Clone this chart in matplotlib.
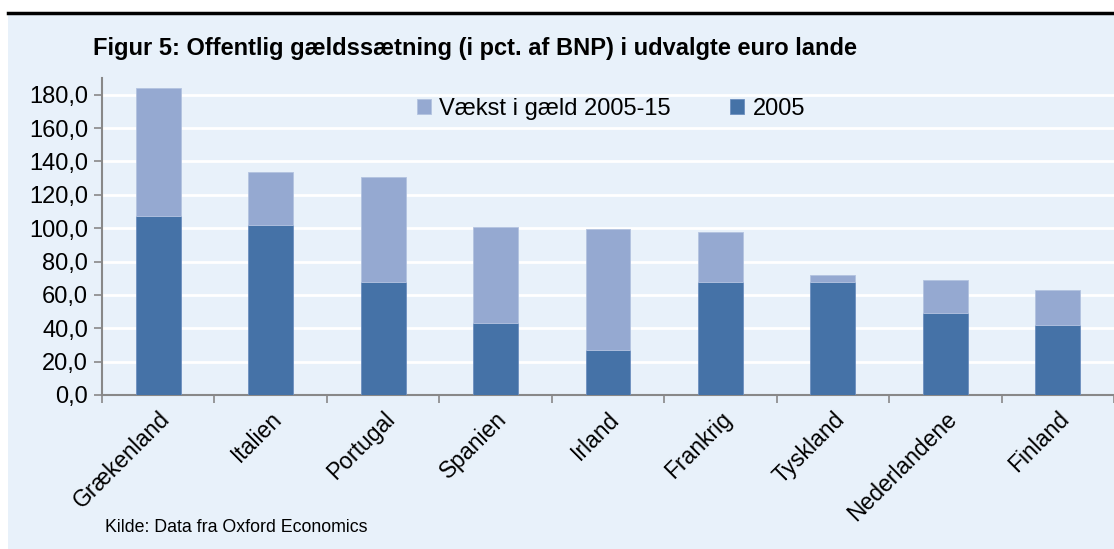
import matplotlib.pyplot as plt
import matplotlib.patches as mpatches
from matplotlib.lines import Line2D
import numpy as np

lande = ["Grækenland", "Italien", "Portugal", "Spanien", "Irland",
         "Frankrig", "Tyskland", "Nederlandene", "Finland"]
gaeld_2005 = np.array([107.5, 102.0, 67.8, 43.0, 27.0, 67.5, 67.5, 49.0, 41.8])
gaeld_2015 = np.array([184.0, 133.8, 130.5, 100.8, 99.6, 97.6, 72.0, 69.0, 63.0])
vaekst = gaeld_2015 - gaeld_2005

bg = "#E8F1FA"
col_2005 = "#4572A7"
col_vaekst = "#95A9D1"

plt.rcParams["font.family"] = ["Liberation Sans", "DejaVu Sans"]

fig = plt.figure(figsize=(11.14, 5.49), dpi=100)
fig.patch.set_facecolor("white")
fig.patches.append(mpatches.Rectangle((8 / 1114, 0), 1, 1 - 14 / 549,
                                      transform=fig.transFigure,
                                      facecolor=bg, edgecolor="none", zorder=-5))
fig.lines.append(Line2D([8 / 1114, 1], [1 - 13 / 549, 1 - 13 / 549],
                        transform=fig.transFigure, color="black", lw=2.5))

ax = fig.add_axes([102 / 1114, 1 - 395 / 549, 1 - 102 / 1114, (395 - 78) / 549])
ax.set_facecolor(bg)

x = np.arange(len(lande))
ax.bar(x, gaeld_2005, width=0.4, color=col_2005, edgecolor="#6d8fbf", lw=0.6,
       label="2005", zorder=3)
ax.bar(x, vaekst, width=0.4, bottom=gaeld_2005, color=col_vaekst,
       edgecolor="#b3c3e0", lw=0.6, label="Vækst i gæld 2005-15", zorder=3)

ax.set_xlim(-0.5, 8.5)
ax.set_ylim(0, 190)
yt = np.arange(0, 181, 20)
ax.set_yticks(yt)
ax.set_yticklabels([f"{v:.1f}".replace(".", ",") for v in yt], fontsize=17)
ax.yaxis.grid(True, color="white", lw=2, zorder=1)
ax.set_axisbelow(True)

ax.set_xticks(x)
ax.set_xticklabels(lande, rotation=45, ha="right", rotation_mode="anchor",
                   fontsize=16.5)
ax.tick_params(axis="x", length=0, pad=9)
ax.set_xticks(np.arange(-0.5, 8.6, 1), minor=True)
ax.tick_params(axis="x", which="minor", length=6, color="#888888", width=1.2)
ax.tick_params(axis="y", length=6, color="#888888", width=1.2, pad=4)

for s in ["top", "right"]:
    ax.spines[s].set_visible(False)
for s in ["left", "bottom"]:
    ax.spines[s].set_color("#888888")
    ax.spines[s].set_linewidth(1.5)

handles, labels = ax.get_legend_handles_labels()
ax.legend(handles[::-1], labels[::-1], loc="center left",
          bbox_to_anchor=((417 - 102) / 1012, (395 - 109) / 317), ncol=2,
          frameon=False, fontsize=17, borderpad=0, borderaxespad=0,
          handlelength=0.6, handleheight=0.6, handletextpad=0.35,
          columnspacing=2.5)

fig.text(93 / 1114, 1 - 48 / 549,
         "Figur 5: Offentlig gældssætning (i pct. af BNP) i udvalgte euro lande",
         fontsize=17, fontweight="bold", va="center")
fig.text(105 / 1114, 1 - 528 / 549, "Kilde: Data fra Oxford Economics",
         fontsize=12.8, va="center")

fig.savefig("out.png", dpi=100, facecolor=fig.get_facecolor())
